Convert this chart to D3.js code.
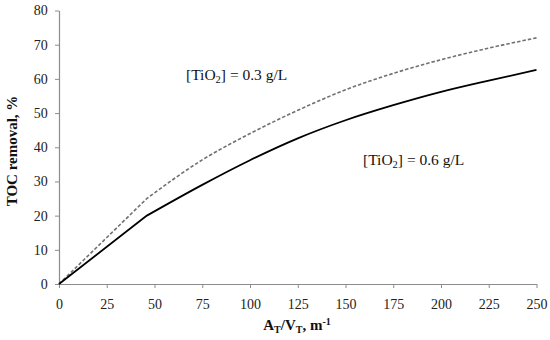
<!DOCTYPE html>
<html><head><meta charset="utf-8">
<script src="https://cdn.jsdelivr.net/npm/d3@7"></script>
<style>
body{margin:0;background:#fff;}
svg{display:block;font-family:"Liberation Serif","DejaVu Serif",serif;}
</style></head>
<body><svg id="c" width="550" height="340"></svg>
<script>
const xTicks = [0,25,50,75,100,125,150,175,200,225,250];
const yTicks = [0,10,20,30,40,50,60,70,80];
const xValues = [0,46,75,100,125,150,175,200,225,250];
const tio03 = [0,25,36.3,44,50.8,56.8,61.6,65.6,69,72];
const tio06 = [0,20,29.0,36.2,42.6,47.9,52.3,56.2,59.5,62.6];

const svg = d3.select("#c");
const x = d3.scaleLinear().domain([0,250]).range([59,536.5]);
const y = d3.scaleLinear().domain([0,80]).range([284,10.5]);
const axisColor = "#8c8c8c";

const gx = svg.append("g").attr("transform","translate(0,284)")
  .call(d3.axisBottom(x).tickValues(xTicks).tickSize(4).tickSizeOuter(0).tickFormat(d3.format("d")));
const gy = svg.append("g").attr("transform","translate(59,0)")
  .call(d3.axisLeft(y).tickValues(yTicks).tickSize(4).tickSizeOuter(0).tickFormat(d3.format("d")));
[gx,gy].forEach(g=>{
  g.select(".domain").attr("stroke",axisColor).attr("stroke-width",1.2);
  g.selectAll(".tick line").attr("stroke",axisColor).attr("stroke-width",1);
  g.selectAll(".tick text").attr("fill","#222").attr("font-size",14)
   .attr("font-family","Liberation Serif, serif");
});
gx.selectAll(".tick text").attr("dy","1.25em");
gy.selectAll(".tick text").attr("dx","-0.3em");

// linear start segment (0 -> 46), then smooth curve
function pathFor(vals){
  const pts = vals.map((v,i)=>[x(xValues[i]), y(v)]);
  const head = d3.line().curve(d3.curveLinear)(pts.slice(0,2));
  const tail = d3.line().curve(d3.curveMonotoneX)(pts.slice(1));
  return head + "L" + tail.slice(1);
}
svg.append("path").attr("d",pathFor(tio03)).attr("fill","none")
  .attr("stroke","#707070").attr("stroke-width",1.6).attr("stroke-dasharray","3.5,2");
svg.append("path").attr("d",pathFor(tio06)).attr("fill","none")
  .attr("stroke","#000").attr("stroke-width",1.8);

function label(tx,ty,conc){
  const t = svg.append("text").attr("x",tx).attr("y",ty).attr("font-size",15.5).attr("fill","#111");
  t.append("tspan").text("[TiO");
  t.append("tspan").text("2").attr("font-size",10.5).attr("dy",3);
  t.append("tspan").text("] = "+conc+" g/L").attr("dy",-3);
}
label(186,80,"0.3");
label(363,165,"0.6");

const xt = svg.append("text").attr("x",297).attr("y",330).attr("text-anchor","middle")
  .attr("font-weight","bold").attr("font-size",15).attr("fill","#111");
xt.append("tspan").text("A");
xt.append("tspan").text("T").attr("font-size",10).attr("dy",3);
xt.append("tspan").text("/V").attr("dy",-3);
xt.append("tspan").text("T").attr("font-size",10).attr("dy",3);
xt.append("tspan").text(", m").attr("dy",-3);
xt.append("tspan").text("-1").attr("font-size",10).attr("dy",-5);

svg.append("text").attr("transform","translate(17,151) rotate(-90)")
  .attr("text-anchor","middle").attr("font-weight","bold").attr("font-size",15).attr("fill","#111")
  .text("TOC removal, %");
</script></body></html>
